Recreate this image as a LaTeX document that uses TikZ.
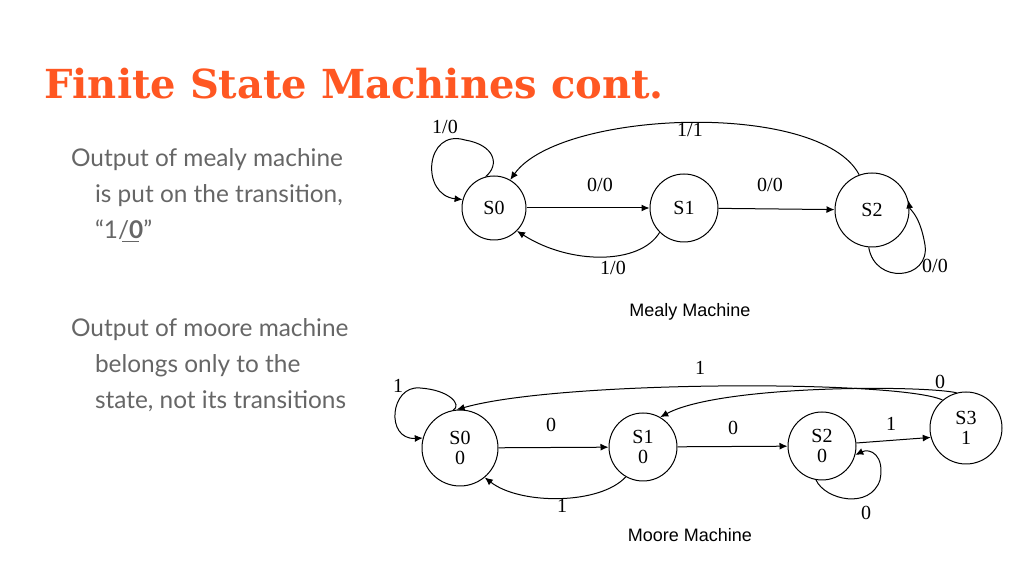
\documentclass[tikz,border=0pt]{standalone}
\usepackage{fontspec}
\setmainfont{Liberation Serif}
\newfontfamily\bodyfont{Lato}
\newfontfamily\capfont{Liberation Sans}
\newfontfamily\titlefont{DejaVu Serif}
\usetikzlibrary{arrows.meta}
\definecolor{titleor}{HTML}{FF5722}
\definecolor{bodygray}{HTML}{666666}
\begin{document}
\begin{tikzpicture}[x=0.5pt,y=-0.5pt,
  st/.style={draw,circle,line width=0.5pt,inner sep=0pt,font=\fontsize{10}{10}\selectfont,align=center},
  lbl/.style={font=\fontsize{10}{10}\selectfont},
  tr/.style={-{Latex[length=4pt,width=3.5pt]},line width=0.5pt},
  body/.style={font=\bodyfont\fontsize{12.2}{18}\selectfont,text=bodygray,anchor=north west,align=left}]
\useasboundingbox (0,0) rectangle (1024,576);
\node[anchor=west,text=titleor,font=\titlefont\bfseries\fontsize{20}{20}\selectfont,inner sep=0pt] (title) at (44,84) {Finite State Machines cont.};
\node[body] (t1) at (64,141) {Output of mealy machine\\\hspace{12pt}is put on the transition,\\\hspace{12pt}“1/\textbf{0}”};
\draw[bodygray,line width=0.5pt] (122,242) -- (139,242);
\node[body] (t2) at (64,311) {Output of moore machine\\\hspace{12pt}belongs only to the\\\hspace{12pt}state, not its transitions};
% Mealy
\node[st,minimum size=32pt] (a0) at (494,208) {S0};
\node[st,minimum size=34pt] (a1) at (684,208) {S1};
\node[st,minimum size=37pt] (a2) at (872,210) {S2};
\draw[tr] (a0) -- (a1);
\draw[tr] (a1) -- (a2);
\draw[tr] (a2.110) .. controls (820,100) and (560,110) .. (a0.60);
\draw[tr] (a1.225) .. controls (640,265) and (570,265) .. (a0.-45);
\draw[tr] (a0.105) .. controls (500,165) and (495,145) .. (465,140) .. controls (425,128) and (420,195) .. (a0.165);
\draw[tr] (a2.-95) .. controls (875,285) and (930,280) .. (925,245) .. controls (920,215) and (910,210) .. (a2.15);
\node[lbl] (l1) at (445,127) {1/0};
\node[lbl] (l2) at (690,130) {1/1};
\node[lbl] (l3) at (600,185) {0/0};
\node[lbl] (l4) at (770,185) {0/0};
\node[lbl] (l5) at (613,268) {1/0};
\node[lbl] (l6) at (935,266) {0/0};
\node[font=\capfont\fontsize{9}{9}\selectfont] (cap1) at (690,312) {Mealy Machine};
% Moore
\node[st,minimum size=38pt] (b0) at (460,448) {S0\\0};
\node[st,minimum size=34pt] (b1) at (643,447) {S1\\0};
\node[st,minimum size=34pt] (b2) at (822,446) {S2\\0};
\node[st,minimum size=36pt] (b3) at (966,428) {S3\\1};
\draw[tr] (b0) -- (b1);
\draw[tr] (b1) -- (b2);
\draw[tr] (b2.5) -- (b3.195);
\draw[tr] (b3.130) .. controls (900,380) and (560,380) .. (b0.95);
\draw[tr] (b3.105) .. controls (920,385) and (720,385) .. (b1.60);
\draw[tr] (b1.-120) .. controls (600,505) and (520,505) .. (b0.-50);
\draw[tr] (b0.100) .. controls (462,405) and (450,390) .. (420,388) .. controls (390,385) and (385,440) .. (b0.165);
\draw[tr] (b2.-100) .. controls (825,500) and (870,510) .. (880,480) .. controls (885,455) and (870,448) .. (b2.-15);
\node[lbl] (m1) at (398,386) {1};
\node[lbl] (m2) at (700,368) {1};
\node[lbl] (m3) at (940,382) {0};
\node[lbl] (m4) at (551,425) {0};
\node[lbl] (m5) at (733,428) {0};
\node[lbl] (m6) at (891,424) {1};
\node[lbl] (m7) at (562,506) {1};
\node[lbl] (m8) at (866,513) {0};
\node[font=\capfont\fontsize{9}{9}\selectfont] (cap2) at (690,535) {Moore Machine};
\end{tikzpicture}
\end{document}
